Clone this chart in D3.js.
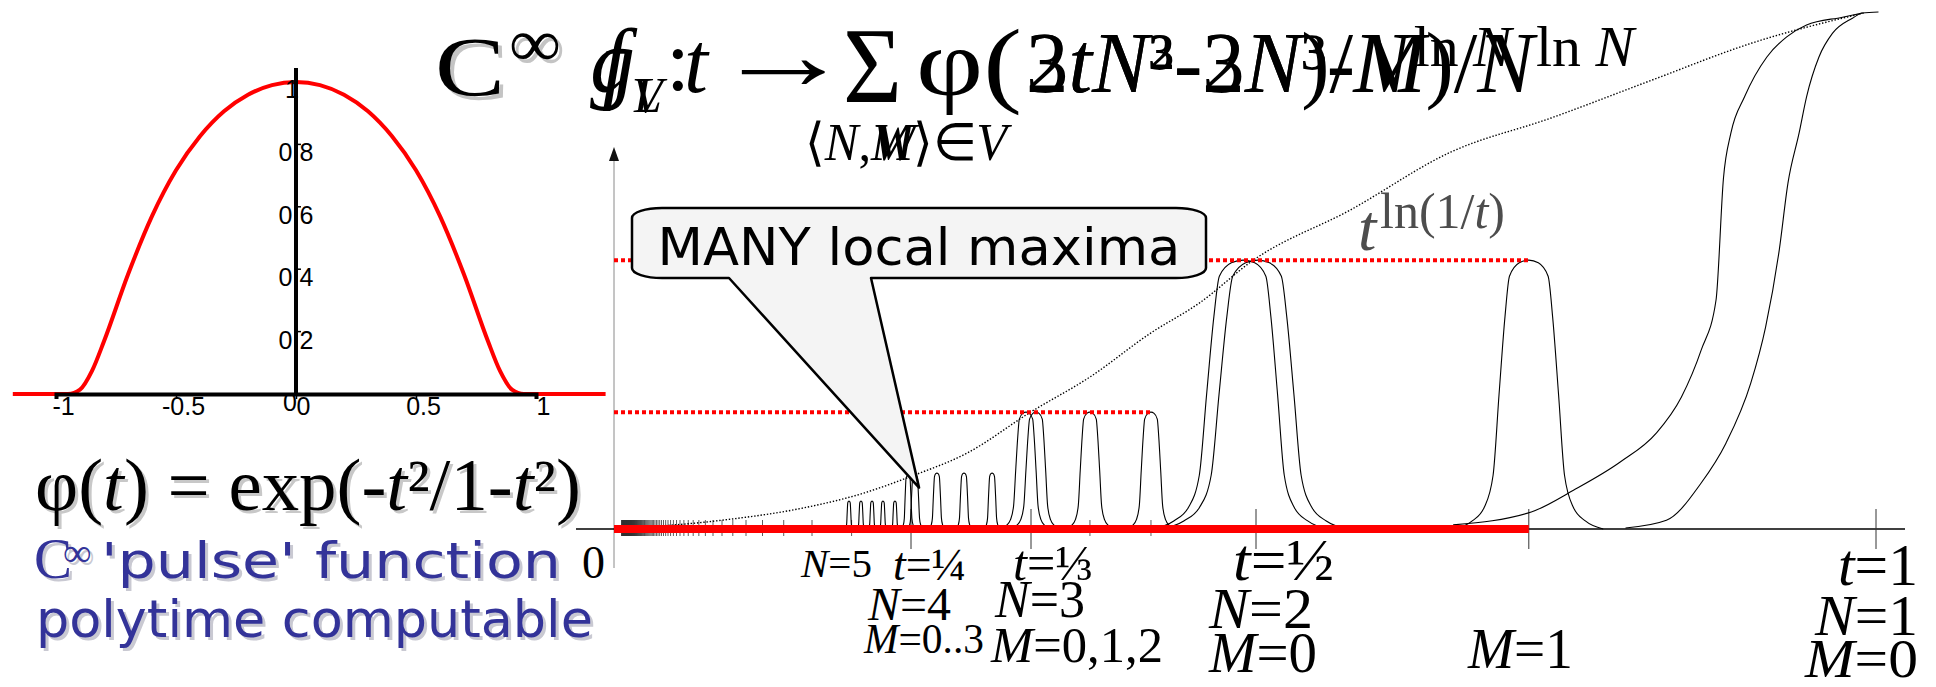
<!DOCTYPE html>
<html>
<head>
<meta charset="utf-8">
<script src="https://cdn.jsdelivr.net/npm/d3@7"></script>
<style>
  html, body { margin: 0; padding: 0; background: #fff; }
  svg { display: block; }
</style>
</head>
<body>
<svg id="chart" width="1936" height="687"></svg>
<script>
// ---------- data ----------
// pulse function phi(t) sampled for the inset plot
const phiT = [-1.18, -1, -0.95, -0.9, -0.85, -0.8, -0.7, -0.6, -0.5, -0.4, -0.3, -0.2, -0.1, 0,
              0.1, 0.2, 0.3, 0.4, 0.5, 0.6, 0.7, 0.8, 0.85, 0.9, 0.95, 1, 1.29];
const phiV = [0, 0, 0.0001, 0.014, 0.074, 0.169, 0.383, 0.570, 0.717, 0.826, 0.906, 0.959, 0.990, 1,
              0.990, 0.959, 0.906, 0.826, 0.717, 0.570, 0.383, 0.169, 0.074, 0.014, 0.0001, 0, 0];
const insetXTicks = [-1, -0.5, 0, 0.5, 1];
const insetXLabels = ["-1", "-0.5", "0", "0.5", "1"];
const insetYTicks = [0.2, 0.4, 0.6, 0.8];
const insetYLabels = ["0.2", "0.4", "0.6", "0.8"];

// one bump of g: offset from centre (in half-widths) and relative height
const profileOffset = [0, 0.32, 0.65, 0.8, 1, 1.2, 1.5, 1.9, 2.5];
const profileValue  = [1, 0.99, 0.94, 0.79, 0.5, 0.2, 0.08, 0.03, 0];

// bumps for N = 5, 4, 3, 2 (centre t, height, half-width in t)
const pulseT = [0.1978, 0.2079, 0.2172, 0.2264, 0.2365,
                0.2475, 0.2528, 0.2680, 0.2868, 0.3063,
                0.3299, 0.3370, 0.3770, 0.4222,
                0.4904, 0.5016, 0.7200];
const pulseV = [0.054, 0.054, 0.054, 0.054, 0.054,
                0.104, 0.104, 0.108, 0.108, 0.108,
                0.226, 0.226, 0.226, 0.226,
                0.520, 0.520, 0.520];
const pulseW = [0.0016, 0.0016, 0.0016, 0.0016, 0.0016,
                0.0026, 0.0026, 0.0026, 0.0026, 0.0026,
                0.0072, 0.0072, 0.0072, 0.0072,
                0.027, 0.029, 0.024];

// rising flanks of the N = 1 bumps
const riseAT = [0.659, 0.722, 0.756, 0.794, 0.823, 0.843, 0.859, 0.871, 0.877, 0.883, 0.894, 0.912, 0.928, 0.944, 0.973, 0.989];
const riseAV = [0.008, 0.033, 0.075, 0.130, 0.186, 0.255, 0.346, 0.443, 0.679, 0.766, 0.836, 0.913, 0.952, 0.975, 0.990, 0.998];
const riseBT = [0.798, 0.831, 0.859, 0.879, 0.899, 0.911, 0.922, 0.929, 0.938, 0.944, 0.954, 0.965, 0.981, 0.989, 1.002];
const riseBV = [0.002, 0.017, 0.089, 0.166, 0.282, 0.391, 0.540, 0.669, 0.766, 0.836, 0.913, 0.959, 0.988, 0.998, 1.0];

// envelope t^ln(1/t)
const envT = [0, 0.091, 0.160, 0.211, 0.249, 0.289, 0.333, 0.377, 0.422, 0.458, 0.498, 0.576, 0.657, 0.738, 0.819, 0.900, 0.990];
const envV = [0, 0.017, 0.041, 0.070, 0.101, 0.147, 0.226, 0.294, 0.379, 0.437, 0.520, 0.617, 0.729, 0.795, 0.868, 0.940, 0.998];

// axis ticks of the main plot
const majorTicks = [1/4, 1/3, 1/2, 0.72, 1];
const minorN = d3.range(5, 150);          // ticks at t = 1/N
const minorExtra = [0.3770, 0.4222];
const tickLabels = ["N=5", "t=¼", "t=⅓", "t=½", "t=1",
                    "N=4", "N=3", "N=2", "N=1",
                    "M=0..3", "M=0,1,2", "M=0", "M=1", "M=0"];

// ---------- setup ----------
const SERIF = "'Liberation Serif','Times New Roman',serif";
const SANS  = "'DejaVu Sans',Verdana,sans-serif";
const ARIAL = "'Liberation Sans',Arial,sans-serif";
const BLUE = "#333399";

const svg = d3.select("#chart");
svg.append("rect").attr("width", 1936).attr("height", 687).attr("fill", "#fff");

// text made of plain / italic runs; a target width (len) or a fixed
// horizontal factor (sx) is applied as a horizontal scale
function rich(parent, x, y, size, parts, o = {}) {
  const g = parent.append("g");
  const t = g.append("text")
    .attr("x", 0).attr("y", 0)
    .attr("font-size", size)
    .attr("font-family", o.family || SERIF)
    .attr("fill", o.fill || "#000");
  parts.forEach(p => {
    const [s, st] = Array.isArray(p) ? p : [p, ""];
    const sp = t.append("tspan").text(s);
    if (st && st.includes("i")) sp.attr("font-style", "italic");
  });
  const natural = t.node().getComputedTextLength();
  let sx = o.sx || 1;
  if (o.len && natural > 0) sx = o.len / natural;
  const w = natural * sx;
  const shift = o.anchor === "middle" ? w / 2 : (o.anchor === "end" ? w : 0);
  g.attr("transform", `translate(${x - shift},${y}) scale(${sx},1)`);
  return { g, sx, w };
}
function shadowed(parent, x, y, size, parts, o, sh) {
  rich(parent, x + sh.dx, y + sh.dy, size, parts, Object.assign({}, o, { fill: sh.fill }));
  return rich(parent, x, y, size, parts, o);
}
function italicLead(label) {
  const c = label[0];
  return "NMt".includes(c) ? [[c, "i"], [label.slice(1), ""]] : [[label, ""]];
}

// ---------- inset: phi(t) ----------
const inset = svg.append("g");
const ix = d3.scaleLinear().domain([-1, 1]).range([56, 536]);
const iy = d3.scaleLinear().domain([0, 1]).range([394, 82]);

inset.append("path")
  .datum(d3.zip(phiT, phiV))
  .attr("fill", "none").attr("stroke", "#ff0000").attr("stroke-width", 4)
  .attr("d", d3.line().x(d => ix(d[0])).y(d => iy(d[1])).curve(d3.curveMonotoneX));

// tick labels (drawn under the axis lines)
inset.selectAll(".iyl").data(insetYTicks).join("text")
  .attr("x", ix(0)).attr("y", d => iy(d) + 17)
  .attr("text-anchor", "middle").attr("font-family", ARIAL).attr("font-size", 25)
  .text((d, i) => insetYLabels[i]);
inset.append("text").attr("x", ix(0) - 4).attr("y", iy(1) + 16)
  .attr("text-anchor", "middle").attr("font-family", ARIAL).attr("font-size", 25).text("1");
inset.append("text").attr("x", ix(0) - 6).attr("y", iy(0) + 17)
  .attr("text-anchor", "middle").attr("font-family", ARIAL).attr("font-size", 25).text("0");

const xAxisInset = d3.axisBottom(ix).tickValues(insetXTicks)
  .tickFormat((d, i) => insetXLabels[i]).tickSize(5).tickPadding(2);
const gx = inset.append("g").attr("transform", `translate(0,${iy(0)})`).call(xAxisInset);
gx.select(".domain").attr("stroke", "#000").attr("stroke-width", 4);
gx.selectAll(".tick line").attr("stroke", "#000").attr("stroke-width", 1.5);
gx.selectAll(".tick text").attr("font-family", ARIAL).attr("font-size", 25)
  .attr("fill", "#000").attr("dx", 7).attr("dy", "0.55em");

inset.selectAll(".iyt").data(insetYTicks).join("line")
  .attr("x1", ix(0)).attr("x2", ix(0) + 5)
  .attr("y1", d => iy(d)).attr("y2", d => iy(d))
  .attr("stroke", "#000").attr("stroke-width", 1.5);
inset.append("line")
  .attr("x1", ix(0)).attr("x2", ix(0)).attr("y1", 68).attr("y2", iy(0))
  .attr("stroke", "#000").attr("stroke-width", 4);

// ---------- main plot ----------
const main = svg.append("g");
const x = d3.scaleLinear().domain([0, 1/4, 1/3, 1/2, 1]).range([614, 911, 1031, 1256, 1876]);
const y = d3.scaleLinear().domain([0, 1]).range([529, 12]);
const line = d3.line().x(d => x(d[0])).y(d => y(d[1])).curve(d3.curveMonotoneX);

// vertical axis with arrow
main.append("line").attr("x1", x(0)).attr("x2", x(0)).attr("y1", 158).attr("y2", 568)
  .attr("stroke", "#8a8a8a").attr("stroke-width", 1);
main.append("path")
  .attr("d", `M${x(0)},147 L${x(0) - 5},161 L${x(0) + 5},161 Z`).attr("fill", "#111");

// horizontal axis
main.append("line").attr("x1", 576).attr("x2", 1905).attr("y1", y(0)).attr("y2", y(0))
  .attr("stroke", "#000").attr("stroke-width", 1.5);

// minor ticks at 1/N and extra bump positions
main.selectAll(".mt").data(minorN.map(n => 1 / n).concat(minorExtra)).join("line")
  .attr("x1", d => x(d)).attr("x2", d => x(d))
  .attr("y1", y(0) - 9).attr("y2", y(0) + 7)
  .attr("stroke", "#333").attr("stroke-width", 0.8);
// major ticks
main.selectAll(".Mt").data(majorTicks).join("line")
  .attr("x1", d => x(d)).attr("x2", d => x(d))
  .attr("y1", y(0) - 20).attr("y2", y(0) + 20)
  .attr("stroke", "#333").attr("stroke-width", 1);

// bumps
pulseT.forEach((c, i) => {
  const pts = [];
  for (let k = profileOffset.length - 1; k > 0; k--)
    pts.push([c - profileOffset[k] * pulseW[i], profileValue[k] * pulseV[i]]);
  for (let k = 0; k < profileOffset.length; k++)
    pts.push([c + profileOffset[k] * pulseW[i], profileValue[k] * pulseV[i]]);
  main.append("path").datum(pts)
    .attr("fill", "none").attr("stroke", "#000").attr("stroke-width", 1.1)
    .attr("d", line);
});
[[riseAT, riseAV], [riseBT, riseBV]].forEach(([ts, vs]) => {
  main.append("path").datum(d3.zip(ts, vs))
    .attr("fill", "none").attr("stroke", "#000").attr("stroke-width", 1.1)
    .attr("d", line);
});

// envelope t^ln(1/t)
main.append("path").datum(d3.zip(envT, envV))
  .attr("fill", "none").attr("stroke", "#000").attr("stroke-width", 1.4)
  .attr("stroke-dasharray", "1.4,1.8")
  .attr("d", line);

// levels of the local maxima
const levels = [[pulseV[16], pulseT[16]], [pulseV[13], pulseT[13]]];
main.selectAll(".lvl").data(levels).join("line")
  .attr("x1", x(0)).attr("x2", d => x(d[1]))
  .attr("y1", d => y(d[0])).attr("y2", d => y(d[0]))
  .attr("stroke", "#ff0000").attr("stroke-width", 4).attr("stroke-dasharray", "4,3");

// support of g on [0, 0.72]
main.append("line").attr("x1", x(0)).attr("x2", x(0.72)).attr("y1", y(0)).attr("y2", y(0))
  .attr("stroke", "#ff0000").attr("stroke-width", 8);

// callout
const L = 632, R = 1206, T = 208, B = 278, rx = 30, ry = 10;
const tipX = x(pulseT[6]) + 4, tipY = y(0.08);
const callout = `M${L + rx},${T} H${R - rx} A${rx},${ry} 0 0 1 ${R},${T + ry} V${B - ry}
  A${rx},${ry} 0 0 1 ${R - rx},${B} H871 L${tipX},${tipY} L729,${B} H${L + rx}
  A${rx},${ry} 0 0 1 ${L},${B - ry} V${T + ry} A${rx},${ry} 0 0 1 ${L + rx},${T} Z`;
main.append("path").attr("d", callout)
  .attr("fill", "#f4f4f4").attr("stroke", "#000").attr("stroke-width", 2.5)
  .attr("stroke-linejoin", "round");
rich(main, (L + R) / 2, 265, 52, ["MANY local maxima"], { family: SANS, anchor: "middle", len: 523 });

// tick labels under the t axis
const labelLayout = [
  [801, 577, 41, 71], [893, 580, 46, 73], [1013, 580, 50, 80], [1233, 580, 60, 101], [1838, 585, 60, 80],
  [868, 620, 46, 83], [995, 617, 52, 90], [1209, 628, 58, 104], [1815, 635, 58, 103],
  [864, 653, 42, 120], [991, 662, 50, 172], [1209, 672, 58, 108], [1468, 668, 57, 105], [1805, 677, 54, 113]
];
tickLabels.forEach((s, i) => {
  const [lx, ly, fs, w] = labelLayout[i];
  rich(main, lx, ly, fs, italicLead(s), { len: w });
});
rich(main, 605, 578, 46, ["0"], { anchor: "end" });

// envelope label
rich(main, 1358, 250, 66, [["t", "i"]], { fill: "#4d4d4d" });
rich(main, 1380, 228, 50, ["ln(1/", ["t", "i"], ")"], { fill: "#4d4d4d", len: 125 });

// ---------- title formula ----------
const title = svg.append("g");
const shade = { dx: 4, dy: 4, fill: "#c4c4c4" };
shadowed(title, 435, 96, 85, ["C"], { len: 70 }, shade);
shadowed(title, 509, 66, 68, ["∞"], { len: 52 }, shade);

// two superimposed definitions: g_V and f_L
rich(title, 590, 92, 90, [["g", "i"]]);
rich(title, 602, 92, 90, [["f", "i"]]);
rich(title, 632, 112, 50, [["V", "i"]]);
rich(title, 634, 112, 50, [["L", "i"]]);
rich(title, 666, 90, 86, [":"]);
rich(title, 684, 92, 86, [["t", "i"]]);
rich(title, 713, 89, 100, ["→"], { len: 140 });
rich(title, 843, 102, 108, ["Σ"], { len: 59 });
rich(title, 805, 160, 52, ["⟨", ["N", "i"], ",", ["M", "i"], "⟩∈", ["V", "i"]], { len: 202 });
rich(title, 872, 160, 52, [["W", "i"]]);
rich(title, 916, 95, 95, ["φ("], { len: 106 });
const partA = rich(title, 1026, 92, 86,
  ["3", ["t", "i"], ["N", "i"], "³-3", ["N", "i"], "³-", ["M", "i"], ")/", ["N", "i"]], { len: 508 });
const partB = rich(title, 1026, 92, 86,
  ["2", ["t", "i"], ["N", "i"], "²-2", ["N", "i"], ")/", ["N", "i"]], { sx: partA.sx });
rich(title, 1026 + partA.w + 2, 66, 56, ["ln ", ["N", "i"]], { len: 98 });
rich(title, 1026 + partB.w + 4, 66, 56, ["ln ", ["N", "i"]], { len: 98 });

// ---------- captions ----------
const cap = svg.append("g");
shadowed(cap, 35, 510, 74,
  ["φ(", ["t", "i"], ") = exp(-", ["t", "i"], "²/1-", ["t", "i"], "²)"],
  { len: 546 }, { dx: 3, dy: 3, fill: "#c8c8c8" });
const bshade = { dx: 3, dy: 3, fill: "#c9c9d2" };
shadowed(cap, 34, 578, 57, ["C"], { fill: BLUE }, bshade);
shadowed(cap, 63, 566, 40, ["∞"], { fill: BLUE }, bshade);
shadowed(cap, 101, 578, 50, ["'pulse' function"], { fill: BLUE, family: SANS, len: 460 }, bshade);
shadowed(cap, 36, 637, 52, ["polytime computable"], { fill: BLUE, family: SANS, len: 557 }, bshade);
</script>
</body>
</html>
